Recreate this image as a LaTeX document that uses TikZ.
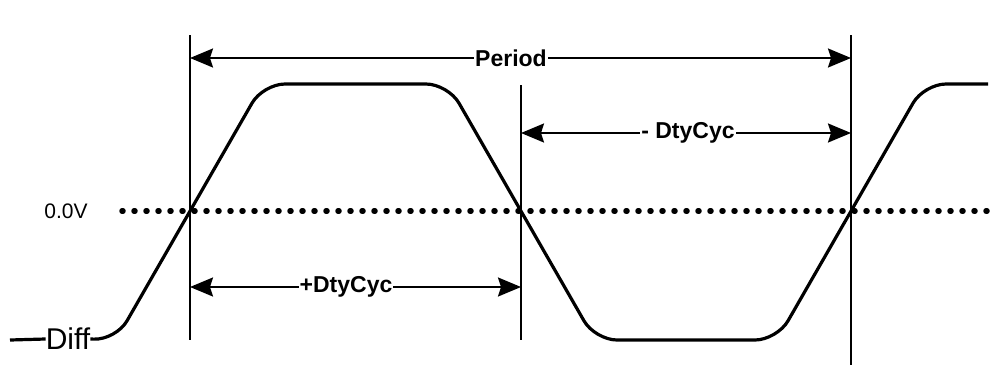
\documentclass[tikz,border=0pt]{standalone}
\usepackage{fontspec}
\setmainfont{Liberation Sans}
\usetikzlibrary{arrows.meta}
\tikzset{>={Stealth[width=19pt,length=23pt,inset=3pt]}}
\tikzset{
  dimlabel/.style={fill=white, inner xsep=1pt, inner ysep=2pt, font=\fontsize{23}{23}\selectfont\bfseries},
  marker/.style={line width=2pt},
}

\begin{document}
\begin{tikzpicture}[x=1pt, y=-1pt]
  \useasboundingbox (0,0) rectangle (1001,383);

  % vertical markers
  \coordinate (T0top) at (190,35);
  \coordinate (T0bot) at (190,340);
  \coordinate (T1top) at (521,85);
  \coordinate (T1bot) at (521,340);
  \coordinate (T2top) at (851,35);
  \coordinate (T2bot) at (851,365);
  \draw[marker] (T0top) -- (T0bot);
  \draw[marker] (T1top) -- (T1bot);
  \draw[marker] (T2top) -- (T2bot);

  % zero level
  \node[font=\fontsize{21}{21}\selectfont] (ZERO) at (66,211) {0.0V};
  \coordinate (Z0) at (122,211);
  \coordinate (Z1) at (990,211);
  \draw[line width=5.5pt, line cap=round, dash pattern=on 1pt off 11pt] (Z0) -- (Z1);

  % waveform
  \node[font=\fontsize{30}{30}\selectfont, inner sep=0pt] (DIFF) at (68,339) {Diff};
  \coordinate (DSTART) at (10,340);
  \draw[line width=3.2pt] (DSTART) -- (DIFF.west);
  \draw[line width=3.2pt, rounded corners=22pt]
    (DIFF.east) -- (116,340) -- (263,84) -- (448,84) -- (595,340)
    -- (777,340) -- (924,84) -- (988,84);

  % period
  \coordinate (P0) at (190,58);
  \coordinate (P1) at (851,58);
  \draw[<->, line width=2pt] (P0) -- (P1) node[dimlabel] (PER) at (511,58) {Period};

  % negative duty cycle
  \coordinate (N0) at (521,133);
  \coordinate (N1) at (851,133);
  \draw[<->, line width=2pt] (N0) -- (N1) node[dimlabel] (NDC) at (688,133) {- DtyCyc};

  % positive duty cycle
  \coordinate (D0) at (190,287);
  \coordinate (D1) at (521,287);
  \draw[<->, line width=2pt] (D0) -- (D1) node[dimlabel] (PDC) at (346,287) {+DtyCyc};
\end{tikzpicture}
\end{document}
